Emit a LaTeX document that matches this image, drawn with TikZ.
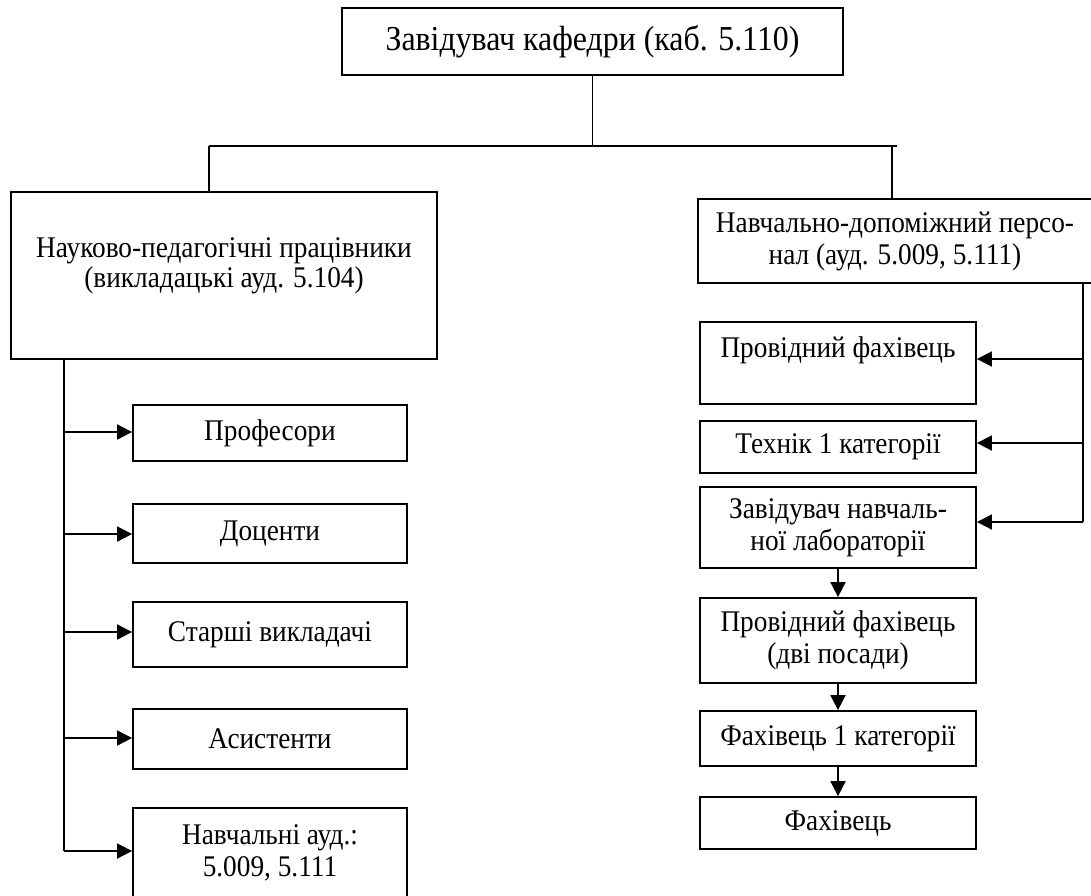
\documentclass[tikz,border=0pt]{standalone}
\usepackage{fontspec}
\setmainfont[FakeStretch=0.91]{Liberation Serif}
\usetikzlibrary{arrows.meta}
\begin{document}
\begin{tikzpicture}[x=1pt,y=-1pt,
  box/.style={draw,line width=1.8pt,inner sep=0pt,align=center,font=\fontsize{30}{32}\selectfont},
  txt/.style={inner sep=0pt,align=center,font=\fontsize{30}{30}\selectfont},
  conn/.style={line width=1.8pt},
  arr/.style={line width=1.8pt,-{Triangle[length=15pt,width=15pt]}}]
\useasboundingbox (0,0) rectangle (1091,895);

% top
\node[box,minimum width=501pt,minimum height=67pt,font=\fontsize{35}{38}\selectfont] (top) at (592.5,41.5) {Завідувач кафедри (каб. 5.110)};

% level 2
\node[box,minimum width=426pt,minimum height=167pt] (npp) at (224,275.5) {};
\node[txt] (npptext) at (224,266) {Науково-педагогічні працівники\\(викладацькі ауд. 5.104)};
\node[box,minimum width=394pt,minimum height=84pt] (nd) at (895,241) {Навчально-допоміжний персо-\\нал (ауд. 5.009, 5.111)};

% tree connectors
\coordinate (hl) at (209,146);
\coordinate (hr) at (897,146);
\coordinate (hm) at (top.south |- hl);
\coordinate (hd) at (892,146);
\draw[conn] (top.south) -- (hm);
\draw[conn] (hl) -- (hr);
\draw[conn] (hl) -- (hl |- npp.north);
\draw[conn] (hd) -- (hd |- nd.north);

% left column
\node[box,minimum width=274pt,minimum height=56pt] (prof) at (270,433) {Професори};
\node[box,minimum width=274pt,minimum height=59pt] (doc) at (270,533.5) {Доценти};
\node[box,minimum width=274pt,minimum height=65pt] (st) at (270,634.5) {Старші викладачі};
\node[box,minimum width=274pt,minimum height=60pt] (as) at (270,739) {Асистенти};
\node[box,minimum width=274pt,minimum height=90pt] (nav) at (270,853) {Навчальні ауд.:\\5.009, 5.111};

\coordinate (ltop) at (64,359);
\coordinate (l1) at (64,432);
\coordinate (l2) at (64,534);
\coordinate (l3) at (64,632);
\coordinate (l4) at (64,738);
\coordinate (l5) at (64,851);
\draw[conn] (ltop) -- (l5);
\draw[arr] (l1) -- (l1 -| prof.west);
\draw[arr] (l2) -- (l2 -| doc.west);
\draw[arr] (l3) -- (l3 -| st.west);
\draw[arr] (l4) -- (l4 -| as.west);
\draw[arr] (l5) -- (l5 -| nav.west);

% right column
\node[box,minimum width=276pt,minimum height=82pt] (pf1) at (838,363) {Провідний фахівець\\\mbox{}};
\node[box,minimum width=276pt,minimum height=52pt] (tech) at (838,447) {Технік 1 категорії};
\node[box,minimum width=276pt,minimum height=81pt] (zav) at (838,527.5) {Завідувач навчаль-\\ної лабораторії};
\node[box,minimum width=276pt,minimum height=85pt] (pf2) at (838,640.5) {Провідний фахівець\\(дві посади)};
\node[box,minimum width=276pt,minimum height=55pt] (f1) at (838,738.5) {Фахівець 1 категорії};
\node[box,minimum width=276pt,minimum height=52pt] (f) at (838,823) {Фахівець};

\coordinate (rtop) at (1083,283);
\coordinate (r1) at (1083,359);
\coordinate (r2) at (1083,443);
\coordinate (r3) at (1083,522);
\draw[conn] (rtop) -- (r3);
\draw[arr] (r1) -- (r1 -| pf1.east);
\draw[arr] (r2) -- (r2 -| tech.east);
\draw[arr] (r3) -- (r3 -| zav.east);

\draw[arr] (zav.south) -- (pf2.north);
\draw[arr] (pf2.south) -- (f1.north);
\draw[arr] (f1.south) -- (f.north);
\end{tikzpicture}
\end{document}
